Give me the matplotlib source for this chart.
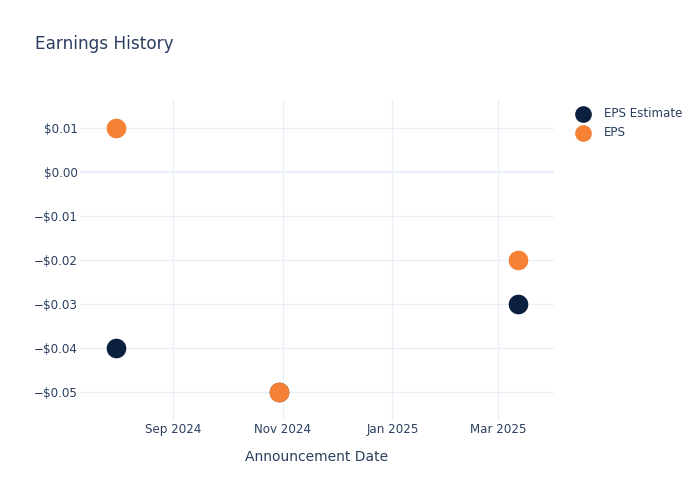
import matplotlib
matplotlib.use("Agg")
import matplotlib.pyplot as plt
import matplotlib.dates as mdates
from matplotlib.ticker import FuncFormatter
import numpy as np
from datetime import datetime

# data
dates = [datetime(2024, 7, 31), datetime(2024, 10, 30), datetime(2025, 3, 12)]
eps_estimate = [-0.04, -0.05, -0.03]
eps_actual = [0.01, -0.05, -0.02]

navy = "#0b1f3f"
orange = "#f58134"
text_col = "#2a3f5f"
grid_col = "#ebf0f8"

fig = plt.figure(figsize=(7, 5), dpi=100)
ax = fig.add_axes([80 / 700, 80 / 500, (554 - 80) / 700, 320 / 500])

ax.scatter(dates, eps_estimate, s=200, color=navy, label="EPS Estimate", zorder=3, linewidths=0)
ax.scatter(dates, eps_actual, s=200, color=orange, label="EPS", zorder=4, linewidths=0)

ax.set_xlim(datetime(2024, 7, 11), datetime(2025, 4, 1))
ax.set_ylim(-0.05645, 0.01645)

ax.xaxis.set_major_locator(mdates.MonthLocator(bymonth=[1, 3, 5, 7, 9, 11]))
ax.xaxis.set_major_formatter(mdates.DateFormatter("%b %Y"))
ax.set_yticks(np.arange(-0.05, 0.011, 0.01))


def money(v, pos):
    v = round(v, 2)
    if v < 0:
        return "\u2212$%.2f" % abs(v)
    return "$%.2f" % abs(v)


ax.yaxis.set_major_formatter(FuncFormatter(money))

ax.grid(color=grid_col, lw=1, zorder=0)
ax.axhline(0, color=grid_col, lw=1.6, zorder=1)
for s in ax.spines.values():
    s.set_visible(False)
ax.tick_params(length=0, colors=text_col, labelsize=8.6)
ax.tick_params(axis="x", pad=2)
ax.tick_params(axis="y", pad=1.5)

ax.set_xlabel("Announcement Date", color=text_col, fontsize=10, labelpad=10)
fig.text(35 / 700, 1 - 44 / 500, "Earnings History", color=text_col, fontsize=12.2, va="center")

leg = ax.legend(loc="upper left", bbox_to_anchor=(571 / 700, 1 - 102 / 500),
                bbox_transform=fig.transFigure, frameon=False, fontsize=8.6,
                handletextpad=1.15, labelspacing=0.5, borderaxespad=0, handlelength=1.2,
                markerscale=0.85)
for t in leg.get_texts():
    t.set_color(text_col)

plt.savefig("out.png", format="png")
